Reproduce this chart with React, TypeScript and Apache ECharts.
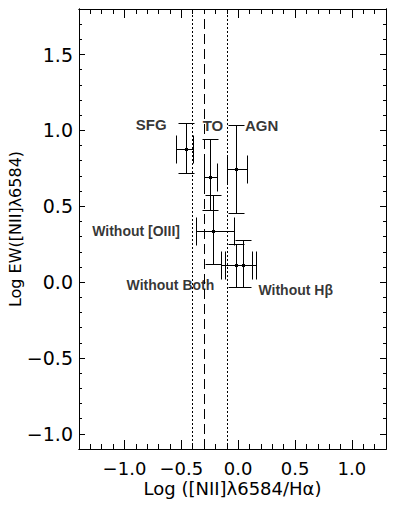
import React, { useEffect, useRef } from 'react';
import * as echarts from 'echarts';

// ---- data ----
const groupNames = ['SFG', 'TO', 'AGN', 'Without [OIII]', 'Without Both', 'Without Hβ'];
const xCenter = [-0.46, -0.25, -0.015, -0.22, -0.015, 0.045];
const yCenter = [0.88, 0.69, 0.745, 0.336, 0.115, 0.11];
const xLow = [-0.545, -0.30, -0.097, -0.37, -0.155, -0.118];
const xHigh = [-0.40, -0.185, 0.08, -0.04, 0.124, 0.153];
const yLow = [0.72, 0.472, 0.457, 0.122, -0.03, -0.03];
const yHigh = [1.05, 0.942, 1.036, 0.574, 0.25, 0.275];

const classLabels = ['SFG', 'TO', 'AGN'];
const classLabelX = [-0.765, -0.222, 0.206];
const classLabelY = [1.036, 1.029, 1.029];

const sampleLabels = ['Without [OIII]', 'Without Both', 'Without Hβ'];
const sampleLabelX = [-0.898, -0.596, 0.506];
const sampleLabelY = [0.34, -0.022, -0.05];

const dividerX = [-0.4, -0.3, -0.1];
const dividerKind = ['dotted', 'dashed', 'dotted'];

const xMajorTicks = [-1.0, -0.5, 0.0, 0.5, 1.0];
const yMajorTicks = [-1.0, -0.5, 0.0, 0.5, 1.0, 1.5];
const xRange = [-1.4, 1.3];
const yRange = [-1.1, 1.8];
const minorStep = 0.1;

const xTitle = 'Log ([NII]λ6584/Hα)';
const yTitle = 'Log EW([NII]λ6584)';

const axisFont = 'DejaVu Sans';
const noteFont = 'Liberation Sans';
const fmt = (v: number) => v.toFixed(1).replace('-', '\u2212');

function makeXAxis(position: 'top' | 'bottom', major: boolean) {
  const main = major && position === 'bottom';
  return {
    type: 'value',
    position,
    min: xRange[0],
    max: xRange[1],
    ...(major ? {} : { interval: minorStep }),
    axisLine: { show: true, onZero: false, lineStyle: { color: '#000', width: 1 } },
    axisTick: {
      show: true,
      inside: true,
      length: major ? 9 : 5,
      lineStyle: { color: '#000', width: 1 },
      ...(major ? { customValues: xMajorTicks } : {}),
    },
    axisLabel: main
      ? {
          show: true,
          customValues: xMajorTicks,
          formatter: fmt,
          margin: 10,
          color: '#000',
          fontFamily: axisFont,
          fontSize: 18,
          lineHeight: 18,
        }
      : { show: false },
    splitLine: { show: false },
    name: main ? xTitle : '',
    nameLocation: 'middle',
    nameGap: 30,
    nameMoveOverlap: false,
    nameTextStyle: { color: '#000', fontFamily: axisFont, fontSize: 18, lineHeight: 18 },
  };
}

function makeYAxis(position: 'left' | 'right', major: boolean) {
  const main = major && position === 'left';
  return {
    type: 'value',
    position,
    min: yRange[0],
    max: yRange[1],
    ...(major ? {} : { interval: minorStep }),
    axisLine: { show: true, onZero: false, lineStyle: { color: '#000', width: 1 } },
    axisTick: {
      show: true,
      inside: true,
      length: major ? 6 : 3,
      lineStyle: { color: '#000', width: 1 },
      ...(major ? { customValues: yMajorTicks } : {}),
    },
    axisLabel: main
      ? {
          show: true,
          customValues: yMajorTicks,
          formatter: fmt,
          margin: 6,
          color: '#000',
          fontFamily: axisFont,
          fontSize: 19,
        }
      : { show: false },
    splitLine: { show: false },
    name: main ? yTitle : '',
    nameLocation: 'middle',
    nameRotate: 90,
    nameGap: 56,
    nameMoveOverlap: false,
    nameTextStyle: { color: '#000', fontFamily: axisFont, fontSize: 16 },
  };
}

const CAP_ON_X = 14; // half length of caps closing horizontal bars
const CAP_ON_Y = 8; // half length of caps closing vertical bars

export default function App() {
  const ref = useRef<HTMLDivElement>(null);

  useEffect(() => {
    if (!ref.current) return;
    const chart = echarts.init(ref.current, undefined, { renderer: 'svg' });

    const errData = groupNames.map((_, i) => [
      xCenter[i],
      yCenter[i],
      xLow[i],
      xHigh[i],
      yLow[i],
      yHigh[i],
    ]);

    const px = (v: number) => Math.round(v) + 0.5;

    chart.setOption({
      animation: false,
      backgroundColor: '#fff',
      grid: { left: 79, right: 7, top: 9, bottom: 62, containLabel: false, outerBoundsMode: 'none' },
      xAxis: [
        makeXAxis('bottom', true),
        makeXAxis('bottom', false),
        makeXAxis('top', true),
        makeXAxis('top', false),
      ],
      yAxis: [
        makeYAxis('left', true),
        makeYAxis('left', false),
        makeYAxis('right', true),
        makeYAxis('right', false),
      ],
      series: [
        {
          type: 'custom',
          name: 'errorbars',
          xAxisIndex: 0,
          yAxisIndex: 0,
          data: errData,
          encode: { x: 0, y: 1 },
          renderItem: (_params: any, api: any) => {
            const c = api.coord([api.value(0), api.value(1)]);
            const lo = api.coord([api.value(2), api.value(1)]);
            const hi = api.coord([api.value(3), api.value(1)]);
            const bot = api.coord([api.value(0), api.value(4)]);
            const top = api.coord([api.value(0), api.value(5)]);
            const cx = px(c[0]);
            const cy = px(c[1]);
            const style = { stroke: '#000', lineWidth: 1, fill: 'none' };
            const seg = (x1: number, y1: number, x2: number, y2: number) => ({
              type: 'line',
              shape: { x1, y1, x2, y2 },
              style,
            });
            const l = px(lo[0]);
            const r = px(hi[0]);
            const t = px(top[1]);
            const b = px(bot[1]);
            return {
              type: 'group',
              children: [
                seg(l, cy, r, cy),
                seg(l, cy - CAP_ON_X, l, cy + CAP_ON_X),
                seg(r, cy - CAP_ON_X, r, cy + CAP_ON_X),
                seg(cx, t, cx, b),
                seg(cx - CAP_ON_Y, t, cx + CAP_ON_Y, t),
                seg(cx - CAP_ON_Y, b, cx + CAP_ON_Y, b),
                {
                  type: 'rect',
                  shape: { x: cx - 1.5, y: cy - 1.5, width: 3, height: 3 },
                  style: { fill: '#000' },
                },
              ],
            };
          },
        },
        {
          type: 'scatter',
          name: 'classLabels',
          xAxisIndex: 0,
          yAxisIndex: 0,
          symbolSize: 0,
          data: classLabels.map((n, i) => ({ name: n, value: [classLabelX[i], classLabelY[i]] })),
          label: {
            show: true,
            position: 'inside',
            formatter: '{b}',
            color: '#000',
            fontFamily: noteFont,
            fontWeight: 'bold',
            fontSize: 15,
          },
          markLine: {
            silent: true,
            symbol: ['none', 'none'],
            label: { show: false },
            lineStyle: { color: '#000', width: 1 },
            data: dividerX.map((x, i) => ({
              xAxis: x,
              lineStyle: {
                color: '#000',
                width: 1,
                type: dividerKind[i] === 'dashed' ? [10, 5] : [2, 2],
              },
            })),
          },
        },
        {
          type: 'scatter',
          name: 'sampleLabels',
          xAxisIndex: 0,
          yAxisIndex: 0,
          symbolSize: 0,
          data: sampleLabels.map((n, i) => ({ name: n, value: [sampleLabelX[i], sampleLabelY[i]] })),
          label: {
            show: true,
            position: 'inside',
            formatter: '{b}',
            color: '#000',
            fontFamily: noteFont,
            fontWeight: 'bold',
            fontSize: 14,
          },
        },
      ],
    });

    return () => chart.dispose();
  }, []);

  return (
    <div
      ref={ref}
      style={{ position: 'absolute', left: 0, top: 0, width: 393, height: 511, background: '#fff' }}
    />
  );
}
